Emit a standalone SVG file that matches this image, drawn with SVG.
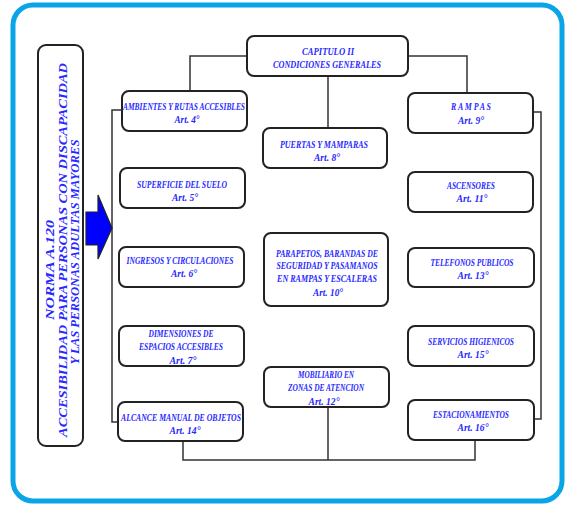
<svg xmlns="http://www.w3.org/2000/svg" width="565" height="507" viewBox="0 0 565 507">
<style>
.box{fill:#fff;stroke:#222;stroke-width:2}
.t{font-family:"Liberation Serif","DejaVu Serif",serif;font-weight:bold;font-style:italic;font-size:10.5px;fill:#2828ff;text-anchor:middle}
.tl{font-family:"Liberation Serif","DejaVu Serif",serif;font-weight:bold;font-style:italic;font-size:13.5px;fill:#2828ff;text-anchor:middle}
.c{fill:none;stroke:#333;stroke-width:1.5}
</style>
<rect x="13" y="5" width="549" height="496" rx="20" fill="#fff" stroke="#0aa5e6" stroke-width="5"/>
<g id="connectors">
<polyline class="c" points="247,56 190,56 190,91"/>
<polyline class="c" points="408,56 467,56 467,93"/>
<line class="c" x1="328" y1="76" x2="328" y2="128"/>
<polyline class="c" points="122,110 112,110 112,422 118,422"/>
<polyline class="c" points="533,112 541,112 541,419 534,419"/>
<polyline class="c" points="183,441 183,460 475,460 475,440"/>
<line class="c" x1="328" y1="407" x2="328" y2="460"/>
</g>
<g id="arrow">
<polygon points="86,212 98,212 98,195 112,228 98,259 98,245 86,245" fill="#0000ff" stroke="#222" stroke-width="1.2"/>
</g>
<g id="norma">
<rect class="box" x="38" y="45" width="45" height="401" rx="8"/>
<g transform="translate(49,270) rotate(-90)"><text class="tl" x="0" y="4.5" textLength="100" lengthAdjust="spacingAndGlyphs">NORMA  A.120</text></g>
<g transform="translate(62,250) rotate(-90)"><text class="tl" x="0" y="4.5" textLength="374" lengthAdjust="spacingAndGlyphs">ACCESIBILIDAD PARA PERSONAS CON DISCAPACIDAD</text></g>
<g transform="translate(74,252) rotate(-90)"><text class="tl" x="0" y="4.5" textLength="225" lengthAdjust="spacingAndGlyphs">Y LAS PERSONAS ADULTAS MAYORES</text></g>
</g>
<g id="capitulo">
<rect class="box" x="247" y="36" width="161" height="40" rx="7" stroke-width="2.5"/>
<text class="t" x="328" y="55" textLength="52" lengthAdjust="spacingAndGlyphs">CAPITULO  II</text>
<text class="t" x="327" y="68" textLength="108" lengthAdjust="spacingAndGlyphs">CONDICIONES GENERALES</text>
</g>
<g id="art4">
<rect class="box" x="122" y="91" width="125" height="40" rx="7"/>
<text class="t" x="184" y="109.5" textLength="122" lengthAdjust="spacingAndGlyphs">AMBIENTES Y RUTAS ACCESIBLES</text>
<text class="t" x="187" y="123" textLength="25" lengthAdjust="spacingAndGlyphs">Art.  4°</text>
</g>
<g id="art8">
<rect class="box" x="263" y="128" width="124" height="40" rx="7"/>
<text class="t" x="324" y="148" textLength="88" lengthAdjust="spacingAndGlyphs">PUERTAS  Y  MAMPARAS</text>
<text class="t" x="327" y="161" textLength="26" lengthAdjust="spacingAndGlyphs">Art.  8°</text>
</g>
<g id="art5">
<rect class="box" x="120" y="168" width="125" height="40" rx="7"/>
<text class="t" x="182" y="188" textLength="90" lengthAdjust="spacingAndGlyphs">SUPERFICIE  DEL  SUELO</text>
<text class="t" x="185" y="201" textLength="26" lengthAdjust="spacingAndGlyphs">Art.  5°</text>
</g>
<g id="art6">
<rect class="box" x="119" y="247" width="125" height="40" rx="7"/>
<text class="t" x="180" y="264" textLength="107" lengthAdjust="spacingAndGlyphs">INGRESOS  Y  CIRCULACIONES</text>
<text class="t" x="184" y="277" textLength="26" lengthAdjust="spacingAndGlyphs">Art.  6°</text>
</g>
<g id="art10">
<rect class="box" x="264" y="233" width="124" height="73" rx="7"/>
<text class="t" x="327" y="257" textLength="102" lengthAdjust="spacingAndGlyphs">PARAPETOS, BARANDAS  DE</text>
<text class="t" x="327" y="269" textLength="101" lengthAdjust="spacingAndGlyphs">SEGURIDAD  Y  PASAMANOS</text>
<text class="t" x="327" y="282" textLength="100" lengthAdjust="spacingAndGlyphs">EN  RAMPAS  Y   ESCALERAS</text>
<text class="t" x="328" y="296" textLength="30" lengthAdjust="spacingAndGlyphs">Art.  10°</text>
</g>
<g id="art7">
<rect class="box" x="119" y="326" width="125" height="40" rx="7"/>
<text class="t" x="181" y="337" textLength="65" lengthAdjust="spacingAndGlyphs">DIMENSIONES  DE</text>
<text class="t" x="181" y="350" textLength="84" lengthAdjust="spacingAndGlyphs">ESPACIOS  ACCESIBLES</text>
<text class="t" x="183" y="363.5" textLength="27" lengthAdjust="spacingAndGlyphs">Art.  7°</text>
</g>
<g id="art12">
<rect class="box" x="264" y="367" width="125" height="40" rx="7"/>
<text class="t" x="326" y="378" textLength="56" lengthAdjust="spacingAndGlyphs">MOBILIARIO EN</text>
<text class="t" x="326" y="391" textLength="76" lengthAdjust="spacingAndGlyphs">ZONAS DE ATENCION</text>
<text class="t" x="324" y="404.5" textLength="31" lengthAdjust="spacingAndGlyphs">Art.  12°</text>
</g>
<g id="art14">
<rect class="box" x="118" y="402" width="125" height="39" rx="7"/>
<text class="t" x="181" y="421" textLength="120" lengthAdjust="spacingAndGlyphs">ALCANCE  MANUAL  DE  OBJETOS</text>
<text class="t" x="185" y="434" textLength="31" lengthAdjust="spacingAndGlyphs">Art.  14°</text>
</g>
<g id="art9">
<rect class="box" x="408" y="93" width="125" height="40" rx="7"/>
<text class="t" x="471" y="110" textLength="40" lengthAdjust="spacingAndGlyphs">R A M P A S</text>
<text class="t" x="471" y="123.5" textLength="26" lengthAdjust="spacingAndGlyphs">Art.  9°</text>
</g>
<g id="art11">
<rect class="box" x="408" y="172" width="125" height="40" rx="7"/>
<text class="t" x="471" y="189" textLength="48" lengthAdjust="spacingAndGlyphs">ASCENSORES</text>
<text class="t" x="472" y="202" textLength="31" lengthAdjust="spacingAndGlyphs">Art.  11°</text>
</g>
<g id="art13">
<rect class="box" x="408" y="248" width="126" height="39" rx="7"/>
<text class="t" x="472" y="266" textLength="83" lengthAdjust="spacingAndGlyphs">TELEFONOS  PUBLICOS</text>
<text class="t" x="473" y="279" textLength="31" lengthAdjust="spacingAndGlyphs">Art.  13°</text>
</g>
<g id="art15">
<rect class="box" x="408" y="326" width="126" height="40" rx="7"/>
<text class="t" x="471" y="345" textLength="86" lengthAdjust="spacingAndGlyphs">SERVICIOS  HIGIENICOS</text>
<text class="t" x="473" y="358" textLength="31" lengthAdjust="spacingAndGlyphs">Art.  15°</text>
</g>
<g id="art16">
<rect class="box" x="408" y="400" width="126" height="40" rx="7"/>
<text class="t" x="471" y="418" textLength="76" lengthAdjust="spacingAndGlyphs">ESTACIONAMIENTOS</text>
<text class="t" x="473" y="431" textLength="31" lengthAdjust="spacingAndGlyphs">Art.  16°</text>
</g>
</svg>
